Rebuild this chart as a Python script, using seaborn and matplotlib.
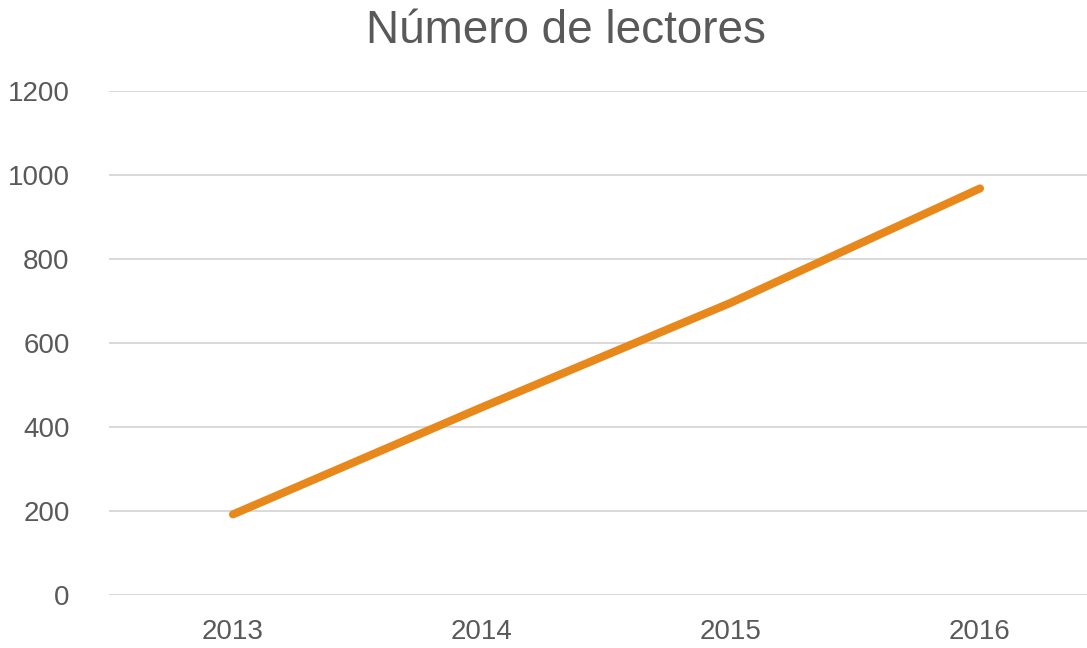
import pandas as pd
import matplotlib.pyplot as plt
import seaborn as sns

# Chart data
years = ["2013", "2014", "2015", "2016"]
lectores = [192, 447, 696, 968]

sns.set_theme(style="white")
plt.rcParams['font.family'] = ['Liberation Sans', 'DejaVu Sans']

df = pd.DataFrame({"year": years, "lectores": lectores})

text_color = "#595959"

fig = plt.figure(figsize=(10.87, 6.48), dpi=100)
ax = fig.add_axes([108.5 / 1087, 53 / 648, 996 / 1087, 504 / 648])

sns.lineplot(data=df, x="year", y="lectores", ax=ax, color="#E8871A",
             linewidth=5.8, solid_capstyle="round", sort=False)

ax.set_xlim(-0.5, 3.5)
ax.set_ylim(0, 1200)
ax.set_yticks(range(0, 1201, 200))
ax.yaxis.grid(True, color="#D9D9D9", linewidth=1.4)
ax.xaxis.grid(False)
for s in ax.spines.values():
    s.set_visible(False)
ax.tick_params(axis="both", length=0, labelsize=20, colors=text_color)
ax.tick_params(axis="y", pad=28)
ax.tick_params(axis="x", pad=17)
ax.set_xlabel("")
ax.set_ylabel("")

fig.text(566 / 1087, 1 - 31 / 648, "Número de lectores", ha="center", va="center",
         fontsize=33, color=text_color)

fig.savefig("out.png", dpi=100)
